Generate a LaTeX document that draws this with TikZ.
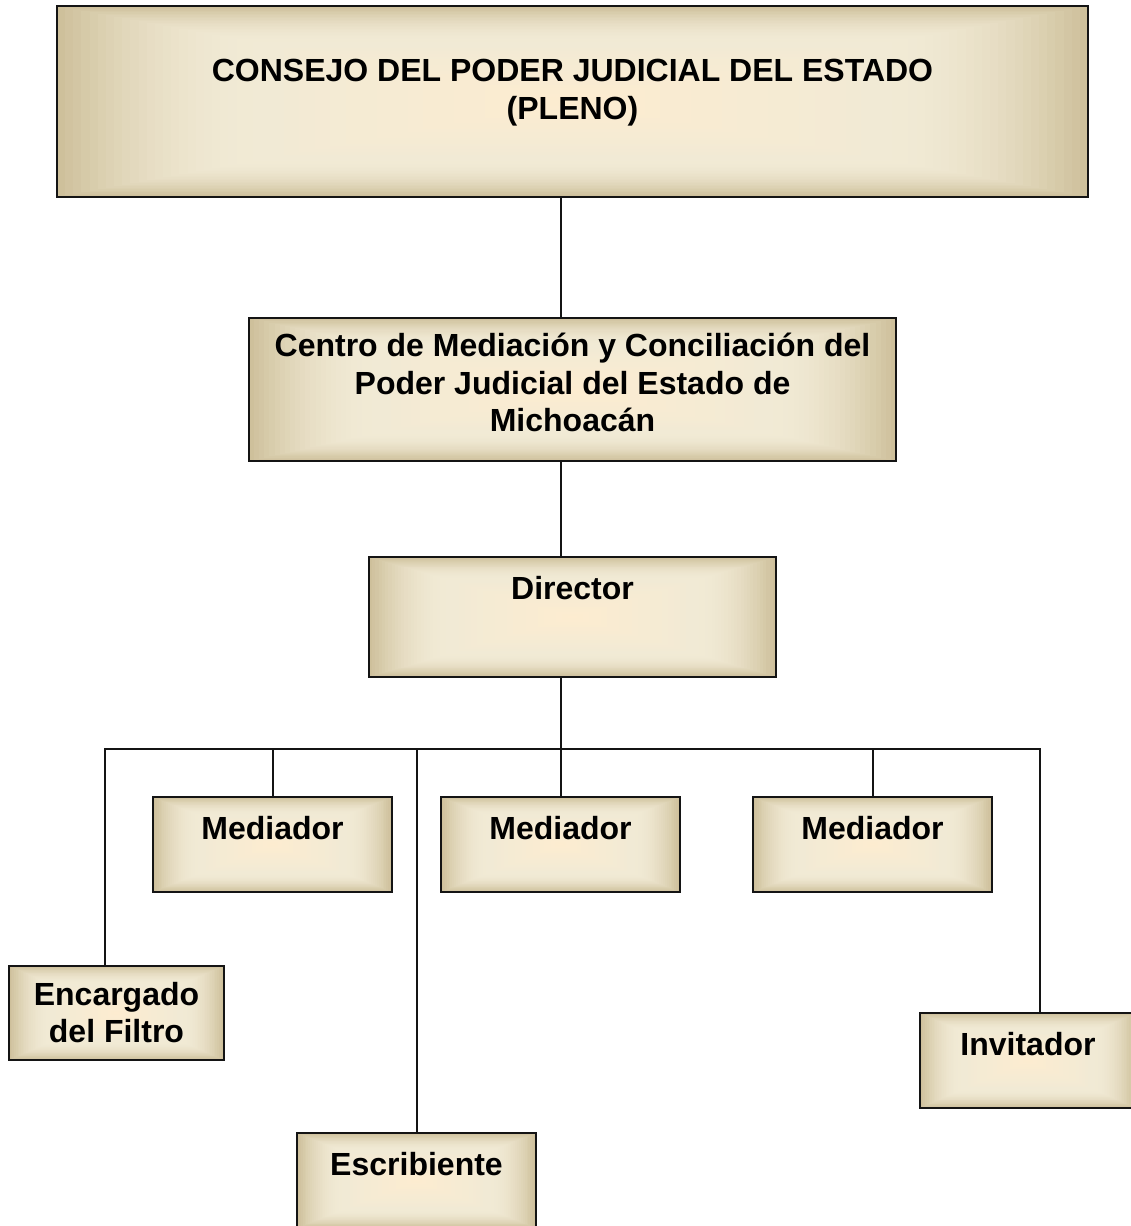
\documentclass[tikz,border=0pt]{standalone}
\usepackage{fontspec}
\setmainfont{Liberation Sans}
\usetikzlibrary{calc}
\definecolor{boxedge}{RGB}{206,192,155}
\definecolor{boxmid}{RGB}{241,234,213}
\definecolor{boxcenter}{RGB}{253,236,208}
\definecolor{boxline}{RGB}{20,20,20}
\tikzset{
  gbox/.style={rectangle, draw=boxline, line width=2pt, inner sep=0pt,
    path picture={
      \fill[boxedge] (path picture bounding box.south west) rectangle (path picture bounding box.north east);
      \foreach \i in {1,...,24}{
        \pgfmathsetmacro{\f}{0.38*\i/24}
        \pgfmathtruncatemacro{\p}{100*(1-(1-\i/24)^2)}
        \fill[boxmid!\p!boxedge]
          ($(path picture bounding box.south west)!\f!(path picture bounding box.center)$)
          rectangle
          ($(path picture bounding box.north east)!\f!(path picture bounding box.center)$);
      }
      \foreach \i in {1,...,20}{
        \pgfmathsetmacro{\f}{0.38+0.6*\i/20}
        \pgfmathtruncatemacro{\p}{100*\i/20}
        \fill[boxcenter!\p!boxmid]
          ($(path picture bounding box.south west)!\f!(path picture bounding box.center)$)
          rectangle
          ($(path picture bounding box.north east)!\f!(path picture bounding box.center)$);
      }
    }},
  lbl/.style={anchor=north, align=center, inner sep=0pt,
    font=\fontsize{32}{37.5}\selectfont\bfseries},
  conn/.style={draw=boxline, line width=2pt}
}
\begin{document}
\begin{tikzpicture}[x=1pt,y=-1pt]
\useasboundingbox (0,0) rectangle (1131,1226);

% boxes
\node[gbox, minimum width=1031pt, minimum height=191pt] (top) at (572.5,101.5) {};
\node[gbox, minimum width=647pt, minimum height=143pt] (centro) at (572.5,389.5) {};
\node[gbox, minimum width=407pt, minimum height=120pt] (dir) at (572.5,617) {};
\node[gbox, minimum width=239pt, minimum height=95pt] (m1) at (272.5,844.5) {};
\node[gbox, minimum width=239pt, minimum height=95pt] (m2) at (560.5,844.5) {};
\node[gbox, minimum width=239pt, minimum height=95pt] (m3) at (872.5,844.5) {};
\node[gbox, minimum width=215pt, minimum height=94pt] (enc) at (116.5,1013) {};
\node[gbox, minimum width=239pt, minimum height=95pt] (esc) at (416.5,1180.5) {};
\node[gbox, minimum width=216pt, minimum height=95pt] (inv) at (1028,1060.5) {};

% labels
\node[lbl] (topT) at (572.5,59) {CONSEJO DEL PODER JUDICIAL DEL ESTADO\\(PLENO)};
\node[lbl] (centroT) at (572.5,333) {Centro de Mediación y Conciliación del\\Poder Judicial del Estado de\\Michoacán};
\node[lbl] (dirT) at (572.5,576) {Director};
\node[lbl] (m1T) at (272.5,816) {Mediador};
\node[lbl] (m2T) at (560.5,816) {Mediador};
\node[lbl] (m3T) at (872.5,816) {Mediador};
\node[lbl] (encT) at (116.5,982) {Encargado\\del Filtro};
\node[lbl] (escT) at (416.5,1152) {Escribiente};
\node[lbl] (invT) at (1028,1032) {Invitador};

% bus coordinates
\coordinate (jc) at (561,749);
\coordinate (busL) at (105,749);
\coordinate (busR) at (1040,749);

% connectors
\draw[conn] (jc |- top.south) -- (jc |- centro.north);
\draw[conn] (jc |- centro.south) -- (jc |- dir.north);
\draw[conn] (jc |- dir.south) -- (jc);
\draw[conn, line cap=rect] (busL) -- (busR);
\draw[conn] (m1.north) -- (m1.north |- jc);
\draw[conn] (m2.north) -- (m2.north |- jc);
\draw[conn] (m3.north) -- (m3.north |- jc);
\draw[conn] (busL) -- (busL |- enc.north);
\draw[conn] (esc.north |- jc) -- (esc.north);
\draw[conn] (busR) -- (busR |- inv.north);
\end{tikzpicture}
\end{document}
